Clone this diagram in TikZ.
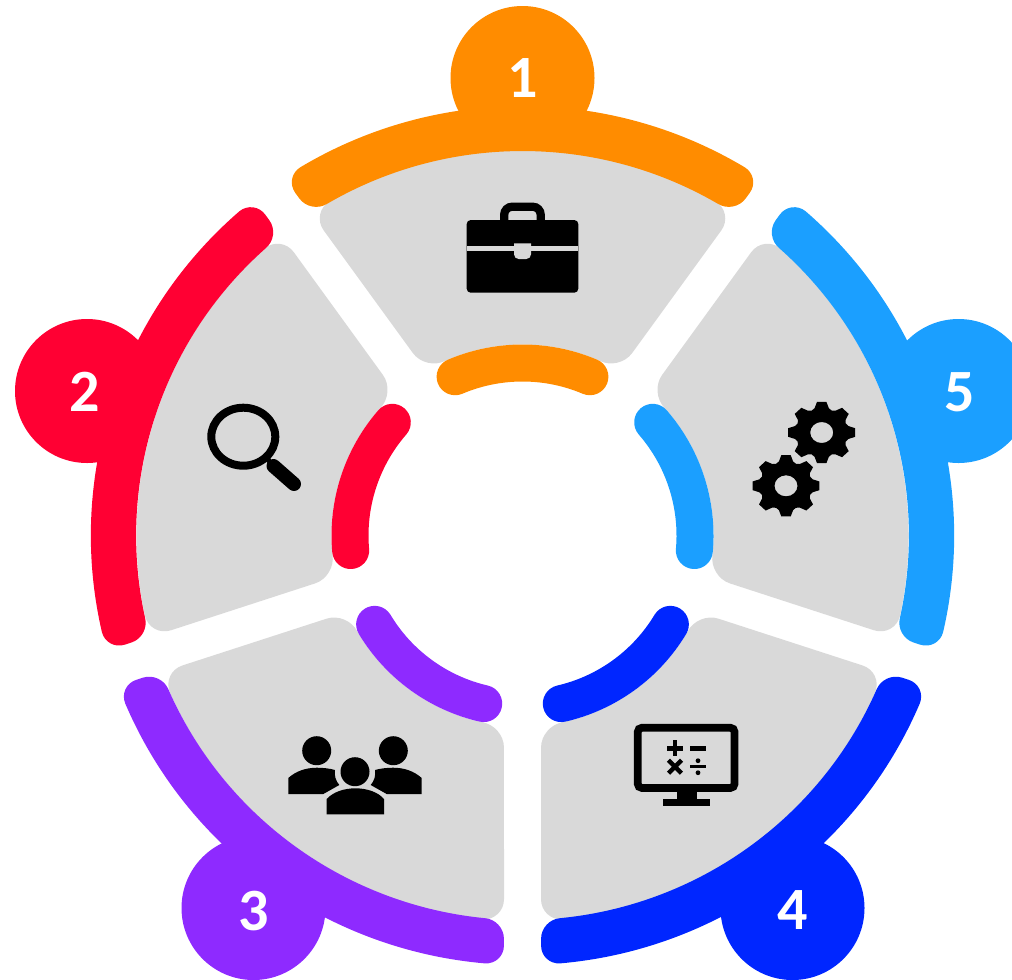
\documentclass[tikz,border=0pt]{standalone}
\usetikzlibrary{calc}
\usepackage{fontspec}
\setmainfont{Carlito}
\definecolor{cOrange}{HTML}{FF8C00}
\definecolor{cRed}{HTML}{FF0033}
\definecolor{cPurple}{HTML}{8E2AFF}
\definecolor{cNavy}{HTML}{0026FF}
\definecolor{cSky}{HTML}{1B9FFF}
\definecolor{cGray}{HTML}{D9D9D9}
\tikzset{
  numdisc/.style={circle,inner sep=0pt,minimum size=108pt},
  numtext/.style={inner sep=0pt,text=white,font=\fontsize{45}{45}\selectfont\bfseries},
  innerband/.style={line width=27.75pt,line cap=round},
  graysector/.style={fill=cGray,draw=none},
  icon/.style={fill=black,draw=none}
}
\newcommand{\rcTo}[3]{.. controls ($(#1)!.55!(#2)$) and ($(#3)!.55!(#2)$) .. (#3)}
\newcommand{\sector}[1]{%
  \begin{scope}[shift={(522.5,-535.5)},rotate=#1]
    \path[graysector] (119.98:386)
      arc[start angle=119.98,end angle=60.02,radius=386]
      \rcTo{60.02:386}{211.69,322.82}{198.75,305.02} -- (109.6,182.4)
      \rcTo{109.6,182.4}{96.77,164.67}{66.16:191}
      arc[start angle=66.16,end angle=113.84,radius=191]
      \rcTo{113.84:191}{-96.77,164.67}{-109.6,182.4} -- (-198.75,305.02)
      \rcTo{-198.75,305.02}{-211.69,322.82}{119.98:386} -- cycle;
  \end{scope}}
\newcommand{\bands}[2]{%
  \begin{scope}[shift={(522.5,-535.5)},xscale=1.005,rotate=#1]
    \fill[#2] (121:429.5)
      arc[start angle=121,end angle=59,radius=429.5]
      \rcTo{59:429.5}{237.25,358.02}{226.09,342.64} -- (221.94,336.94)
      \rcTo{221.94,336.94}{210.77,321.57}{59.59:384.5}
      arc[start angle=59.59,end angle=120.41,radius=384.5]
      \rcTo{120.41:384.5}{-210.77,321.57}{-221.94,336.94} -- (-226.09,342.64)
      \rcTo{-226.09,342.64}{-237.25,358.02}{121:429.5} -- cycle;
  \end{scope}
  \begin{scope}[shift={(522.5,-535.5)},rotate=#1]
    \draw[innerband,#2] (67:172.5) arc[start angle=67,end angle=113,radius=172.5];
  \end{scope}}
\newcommand{\gearicon}[2]{%
  \begin{scope}[shift={(#1,#2)},yscale=.915]
    \fill[icon,even odd rule] (-22.5:26)
      \foreach \a in {0,45,...,315}{
        -- ({\a-15}:27.5) -- ({\a-8}:33.8) -- ({\a+8}:33.8) -- ({\a+15}:27.5) -- ({\a+22.5}:26)
      } -- cycle (0,0) circle[radius=11.5];
  \end{scope}}
\newcommand{\sideperson}{%
  \fill[icon] (316.7,750.7) circle[radius=14.5];
  \fill[icon] (288.3,794) -- (288.3,778) .. controls (296,771) and (306,767.7) .. (317,767.7)
     .. controls (323,767.7) and (330,768.5) .. (335,770)
     .. controls (334,776) and (336,781) .. (339.3,785) -- (323.3,794) -- cycle;}
\begin{document}
\begin{tikzpicture}[x=0.75pt,y=0.75pt]
\clip (0,-979) rectangle (1012,0);
\sector{0}\sector{72}\sector{144}\sector{216}\sector{288}
\node[numdisc,fill=cOrange] (d1) at (522.5,-78) {};
\node[numdisc,fill=cRed] (d2) at (87,-391) {};
\node[numdisc,fill=cPurple] (d3) at (253.5,-908) {};
\node[numdisc,fill=cNavy] (d4) at (792.5,-908) {};
\node[numdisc,fill=cSky] (d5) at (958.5,-391) {};
\bands{0}{cOrange}
\bands{72}{cRed}
\bands{144}{cPurple}
\bands{216}{cNavy}
\bands{288}{cSky}
\node[numtext] (n1) at (522.5,-78) {1};
\node[numtext] (n2) at (85,-392) {2};
\node[numtext] (n3) at (253.3,-911) {3};
\node[numtext] (n4) at (793,-910) {4};
\node[numtext] (n5) at (959.5,-392) {5};
\begin{scope}[yscale=-1]
  % briefcase
  \draw[line width=6.2pt,rounded corners=6pt] (504.2,222) -- (504.2,206.7) -- (540.7,206.7) -- (540.7,222);
  \fill[icon,rounded corners=3pt] (466.7,220) rectangle (578.3,292.7);
  \fill[cGray] (466.7,245.7) rectangle (578.3,251);
  \fill[cGray] (514,243.3) [rounded corners=3.5pt] -- (514,259) -- (531,259) [sharp corners] -- (531,243.3) -- cycle;
  % magnifier
  \draw[line width=6pt] (243.3,436.7) ellipse[x radius=32,y radius=29];
  \draw[line width=3.8pt] (266,457) -- (273,466);
  \draw[line width=10.5pt,line cap=round] (273.5,466) -- (294,484);
  % gears
  \gearicon{821.7}{432.5}
  \gearicon{786}{485.8}
  % people
  \sideperson
  \begin{scope}[xshift=532.5pt,xscale=-1]\sideperson\end{scope}
  \fill[icon] (355,771.7) circle[radius=14.5];
  \fill[icon] (326.7,814.3) -- (326.7,799) .. controls (333,792) and (344,788.3) .. (355.3,788.3)
     .. controls (367,788.3) and (378,792) .. (384,799) -- (384,814.3) -- cycle;
  % monitor
  \draw[line width=5.8pt,rounded corners=3pt] (637.8,727.8) rectangle (734.5,787.9);
  \fill[icon] (676.7,790) rectangle (696.7,800);
  \fill[icon] (662.7,799) rectangle (710,806);
  \draw[line width=3.4pt] (667,748.3) -- (683,748.3) (675,740.3) -- (675,756.3);
  \draw[line width=3.4pt] (690,748.3) -- (706,748.3);
  \draw[line width=3.4pt] (668.5,760.2) -- (681.5,773.2) (681.5,760.2) -- (668.5,773.2);
  \draw[line width=2.4pt] (690,766.7) -- (706,766.7);
  \fill[icon] (698,760.7) circle[radius=2.4] (698,772.7) circle[radius=2.4];
\end{scope}
\end{tikzpicture}
\end{document}
